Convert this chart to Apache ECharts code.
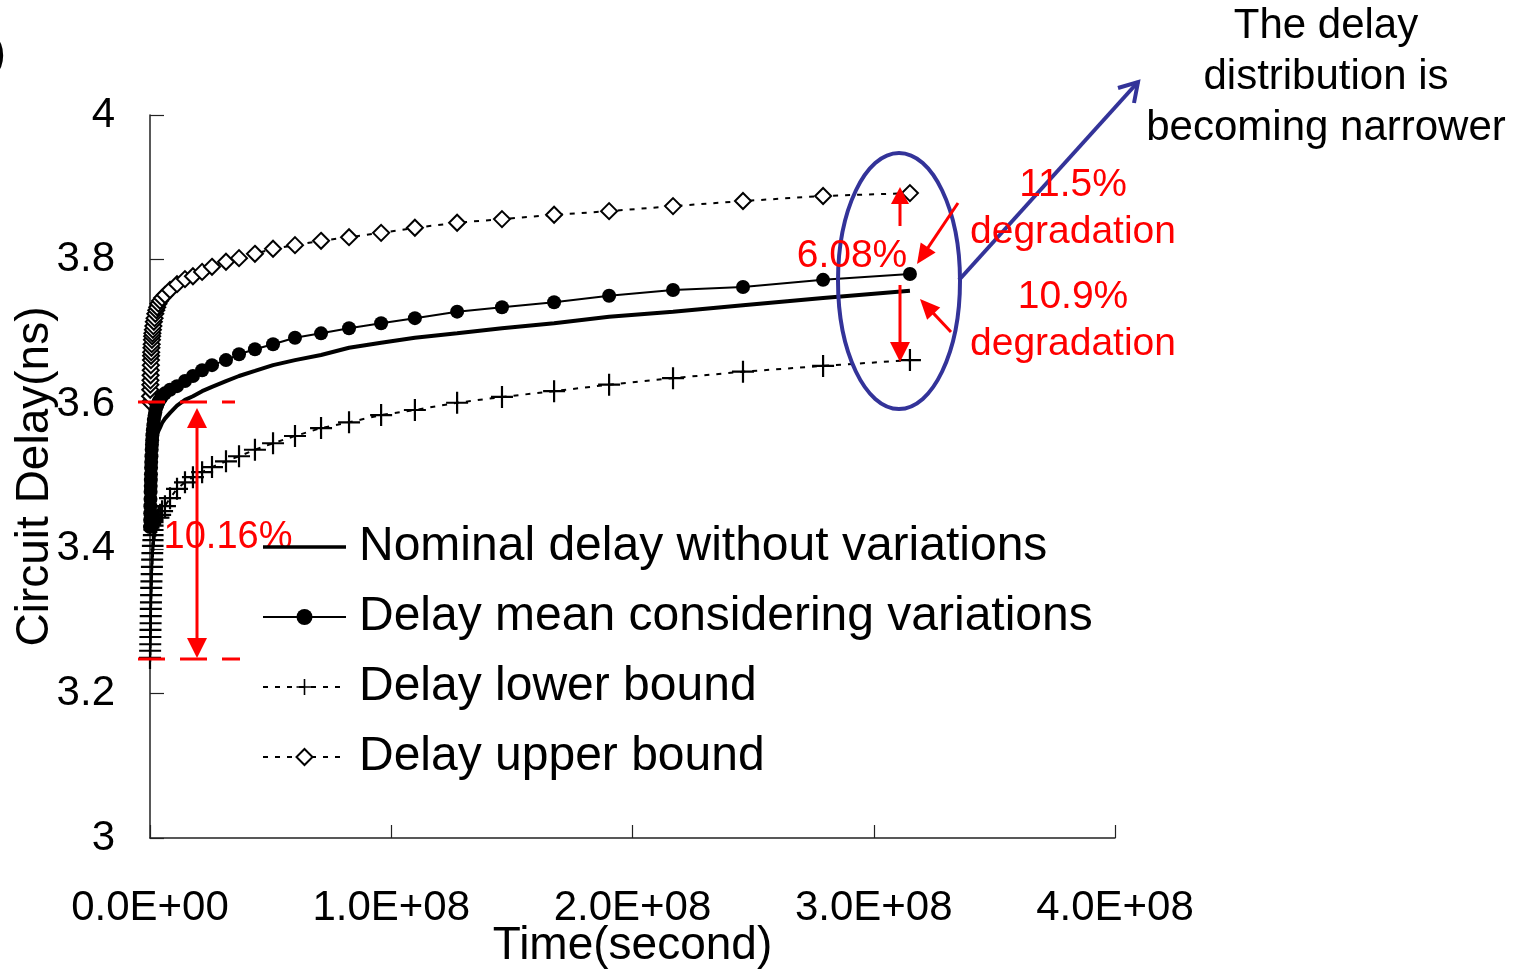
<!DOCTYPE html>
<html>
<head>
<meta charset="utf-8">
<script src="https://cdn.jsdelivr.net/npm/echarts@6/dist/echarts.min.js"></script>
<style>
html,body{margin:0;padding:0;background:#fff;}
#chart{width:1526px;height:969px;}
</style>
</head>
<body>
<div id="chart"></div>
<script>
// ---- data (time in seconds, delay in ns) ----
const timeSec = [0, 5e4, 1e5, 1.5e5, 2e5, 2.5e5, 3e5, 3.5e5, 4e5, 4.5e5, 5e5, 6e5, 7e5, 8e5, 9e5, 1e6,
  1.2e6, 1.4e6, 1.6e6, 1.9e6, 2.2e6, 2.6e6, 3.0e6, 3.5e6, 4.2e6, 5.0e6, 6.2e6,
  8.3e6, 11.2e6, 14.5e6, 17.8e6, 21.6e6, 25.7e6, 31.5e6, 36.9e6, 43.5e6, 51.0e6, 60.1e6, 70.9e6,
  82.5e6, 95.8e6, 109.8e6, 127.3e6, 145.9e6, 167.5e6, 190.3e6, 216.8e6, 245.8e6, 279.0e6, 315.0e6];

const nominalDelay = [3.423, 3.430, 3.437, 3.444, 3.451, 3.458, 3.465, 3.472, 3.477, 3.483, 3.488, 3.495, 3.501, 3.506, 3.512, 3.517,
  3.524, 3.530, 3.535, 3.542, 3.548, 3.553, 3.559, 3.563, 3.568, 3.574, 3.580,
  3.588, 3.598, 3.606, 3.611, 3.618, 3.624, 3.632, 3.639, 3.646, 3.654, 3.661, 3.668,
  3.678, 3.685, 3.692, 3.698, 3.705, 3.712, 3.721, 3.728, 3.737, 3.747, 3.757];

const meanDelay = [3.430, 3.440, 3.449, 3.459, 3.469, 3.479, 3.487, 3.495, 3.503, 3.512, 3.520, 3.528, 3.537, 3.544, 3.550, 3.557,
  3.564, 3.571, 3.578, 3.584, 3.589, 3.595, 3.599, 3.603, 3.607, 3.611, 3.615,
  3.620, 3.625, 3.632, 3.639, 3.647, 3.654, 3.661, 3.669, 3.676, 3.683, 3.692, 3.698,
  3.705, 3.712, 3.719, 3.728, 3.734, 3.741, 3.750, 3.758, 3.762, 3.772, 3.780];

const lowerDelay = [3.249, 3.259, 3.268, 3.278, 3.288, 3.297, 3.307, 3.317, 3.326, 3.336, 3.346, 3.355, 3.365, 3.375, 3.385, 3.394,
  3.404, 3.412, 3.419, 3.426, 3.432, 3.437, 3.440, 3.443, 3.447, 3.452, 3.459,
  3.470, 3.483, 3.492, 3.499, 3.506, 3.513, 3.521, 3.528, 3.537, 3.546, 3.556, 3.567,
  3.575, 3.585, 3.592, 3.602, 3.610, 3.618, 3.627, 3.636, 3.645, 3.653, 3.661];

const upperDelay = [3.603, 3.611, 3.620, 3.627, 3.633, 3.640, 3.647, 3.654, 3.661, 3.667, 3.672, 3.678, 3.683, 3.689, 3.694, 3.698,
  3.703, 3.708, 3.714, 3.719, 3.725, 3.730, 3.734, 3.739, 3.743, 3.747, 3.751,
  3.758, 3.766, 3.773, 3.777, 3.783, 3.790, 3.797, 3.802, 3.808, 3.815, 3.820, 3.826,
  3.831, 3.837, 3.844, 3.851, 3.856, 3.862, 3.867, 3.874, 3.881, 3.888, 3.892];

const seriesNames = ['Nominal delay without variations', 'Delay mean considering variations', 'Delay lower bound', 'Delay upper bound'];
const xTicks = [0, 1e8, 2e8, 3e8, 4e8];
const yTicks = [3, 3.2, 3.4, 3.6, 3.8, 4];

const FONT = '"Liberation Sans", Arial, sans-serif';
const pairs = ys => timeSec.map((t, i) => [t, ys[i]]);

function sci(v) {
  if (v === 0) return '0.0E+00';
  const e = Math.floor(Math.log10(Math.abs(v)) + 1e-9);
  const m = v / Math.pow(10, e);
  return m.toFixed(1) + 'E' + (e < 0 ? '-' : '+') + String(Math.abs(e)).padStart(2, '0');
}

const PLUS = 'path://M9,0 H11 V9 H20 V11 H11 V20 H9 V11 H0 V9 H9 Z';

// ---- annotation helpers (pixel space) ----
const RED = '#ff0000', BLUE = '#333399';
function arrowHead(x1, y1, x2, y2, len, wid, color, z) {
  const a = Math.atan2(y2 - y1, x2 - x1);
  const bx = x2 - len * Math.cos(a), by = y2 - len * Math.sin(a);
  const px = -Math.sin(a) * wid / 2, py = Math.cos(a) * wid / 2;
  return { type: 'polygon', z: z, shape: { points: [[x2, y2], [bx + px, by + py], [bx - px, by - py]] }, style: { fill: color } };
}
function arrow(x1, y1, x2, y2, color, lw, len, wid, z) {
  const a = Math.atan2(y2 - y1, x2 - x1);
  const ex = x2 - (len - 2) * Math.cos(a), ey = y2 - (len - 2) * Math.sin(a);
  return [
    { type: 'line', z: z, shape: { x1: x1, y1: y1, x2: ex, y2: ey }, style: { stroke: color, lineWidth: lw } },
    arrowHead(x1, y1, x2, y2, len, wid, color, z)
  ];
}
function redText(txt, x, y, extra) {
  return Object.assign({ type: 'text', z: 20, x: x, y: y,
    style: { text: txt, fill: RED, font: '39px ' + FONT, textAlign: 'center', textVerticalAlign: 'middle' } }, extra || {});
}

const chart = echarts.init(document.getElementById('chart'), null, { renderer: 'canvas' });

const graphics = [];
// dashed red reference lines at 3.6 and 3.25
graphics.push({ type: 'line', z: 20, shape: { x1: 138, y1: 402, x2: 235, y2: 402 }, style: { stroke: RED, lineWidth: 3, lineDash: [27, 15] } });
graphics.push({ type: 'line', z: 20, shape: { x1: 138, y1: 659, x2: 240, y2: 659 }, style: { stroke: RED, lineWidth: 3, lineDash: [27, 15] } });
// double-headed arrow 10.16%
graphics.push(...arrow(197, 530, 197, 408, RED, 3, 20, 20, 20));
graphics.push(...arrow(197, 530, 197, 658, RED, 3, 20, 20, 20));
graphics.push(redText('10.16%', 228, 538, { z: 3, style: { text: '10.16%', fill: RED, font: '38px ' + FONT, textAlign: 'center', textVerticalAlign: 'middle', backgroundColor: '#fff' } }));
// 6.08% arrows
graphics.push(...arrow(900, 226, 900, 187, RED, 3, 17, 18, 20));
graphics.push(...arrow(900, 285, 900, 362, RED, 3, 20, 20, 20));
graphics.push(redText('6.08%', 852, 256));
// degradation arrows
graphics.push(...arrow(958, 203, 917, 264, RED, 3, 20, 18, 20));
graphics.push(...arrow(951, 332, 920, 299, RED, 3, 20, 18, 20));
graphics.push(redText('11.5%', 1073, 185));
graphics.push(redText('degradation', 1073, 232));
graphics.push(redText('10.9%', 1073, 297));
graphics.push(redText('degradation', 1073, 344));
// blue ellipse and arrow
graphics.push({ type: 'ellipse', z: 19, shape: { cx: 899, cy: 281, rx: 61, ry: 128 }, style: { fill: 'none', stroke: BLUE, lineWidth: 4 } });
graphics.push({ type: 'line', z: 19, shape: { x1: 959, y1: 280, x2: 1138, y2: 82 }, style: { stroke: BLUE, lineWidth: 4 } });
graphics.push({ type: 'polyline', z: 19, shape: { points: [[1118, 88], [1138, 82], [1134, 103]] }, style: { stroke: BLUE, lineWidth: 4, fill: 'none' } });
// callout text
['The delay', 'distribution is', 'becoming narrower'].forEach((t, i) => {
  graphics.push({ type: 'text', z: 20, x: 1326, y: 26 + i * 51,
    style: { text: t, fill: '#000', font: '42px ' + FONT, textAlign: 'center', textVerticalAlign: 'middle' } });
});
// cropped panel label
graphics.push({ type: 'text', z: 20, x: 6, y: 55, style: { text: '(a)', fill: '#000', font: '44px ' + FONT, textAlign: 'right', textVerticalAlign: 'middle' } });

const option = {
  backgroundColor: '#fff',
  animation: false,
  grid: { left: 150, right: 411, top: 115, bottom: 131, containLabel: false, outerBoundsMode: 'none' },
  xAxis: {
    type: 'value', min: xTicks[0], max: xTicks[xTicks.length - 1], interval: xTicks[1] - xTicks[0],
    name: 'Time(second)', nameLocation: 'middle', nameGap: 85, nameMoveOverlap: false,
    nameTextStyle: { color: '#000', fontSize: 46, fontFamily: FONT },
    axisLine: { show: true, onZero: false, lineStyle: { color: '#222', width: 1.5 } },
    axisTick: { show: true, inside: true, length: 13, lineStyle: { color: '#222', width: 1.2 } },
    axisLabel: { color: '#000', fontSize: 42, fontFamily: FONT, margin: 49, formatter: sci, showMaxLabel: true, showMinLabel: true },
    splitLine: { show: false }
  },
  yAxis: {
    type: 'value', min: yTicks[0], max: yTicks[yTicks.length - 1], interval: 0.2,
    name: 'Circuit Delay(ns)', nameLocation: 'middle', nameGap: 92, nameRotate: 90, nameMoveOverlap: false,
    nameTextStyle: { color: '#000', fontSize: 46, fontFamily: FONT },
    axisLine: { show: true, onZero: false, lineStyle: { color: '#222', width: 1.5 } },
    axisTick: { show: true, inside: true, length: 14, lineStyle: { color: '#222', width: 1.2 } },
    axisLabel: { color: '#000', fontSize: 42, fontFamily: FONT, margin: 35, formatter: v => (Math.round(v * 10) / 10).toString() },
    splitLine: { show: false }
  },
  legend: {
    orient: 'vertical', left: 262, top: 522, padding: 0, itemWidth: 83, itemHeight: 20, itemGap: 20,
    symbolKeepAspect: true,
    data: [
      { name: seriesNames[0], icon: 'path://M0,0 H100 V4 H0 Z' },
      seriesNames[1], seriesNames[2], seriesNames[3]
    ],
    textStyle: { color: '#000', fontSize: 48, fontFamily: FONT, lineHeight: 50, padding: [0, 0, 0, 8] },
    selectedMode: false
  },
  series: [
    { name: seriesNames[3], type: 'line', data: pairs(upperDelay), symbol: 'emptyDiamond', symbolSize: 16, showAllSymbol: true,
      itemStyle: { color: '#000', borderWidth: 2 }, lineStyle: { color: '#000', width: 2, type: [5, 7] }, z: 2 },
    { name: seriesNames[2], type: 'line', data: pairs(lowerDelay), symbol: PLUS, symbolSize: 22, showAllSymbol: true,
      itemStyle: { color: '#000' }, lineStyle: { color: '#000', width: 2, type: [5, 7] }, z: 2 },
    { name: seriesNames[1], type: 'line', data: pairs(meanDelay), symbol: 'circle', symbolSize: 14, showAllSymbol: true,
      itemStyle: { color: '#000' }, lineStyle: { color: '#000', width: 2 }, z: 3 },
    { name: seriesNames[0], type: 'line', data: pairs(nominalDelay), symbol: 'none',
      itemStyle: { color: '#000' }, lineStyle: { color: '#000', width: 4 }, z: 3 }
  ],
  graphic: { elements: graphics }
};
chart.setOption(option);
</script>
</body>
</html>
